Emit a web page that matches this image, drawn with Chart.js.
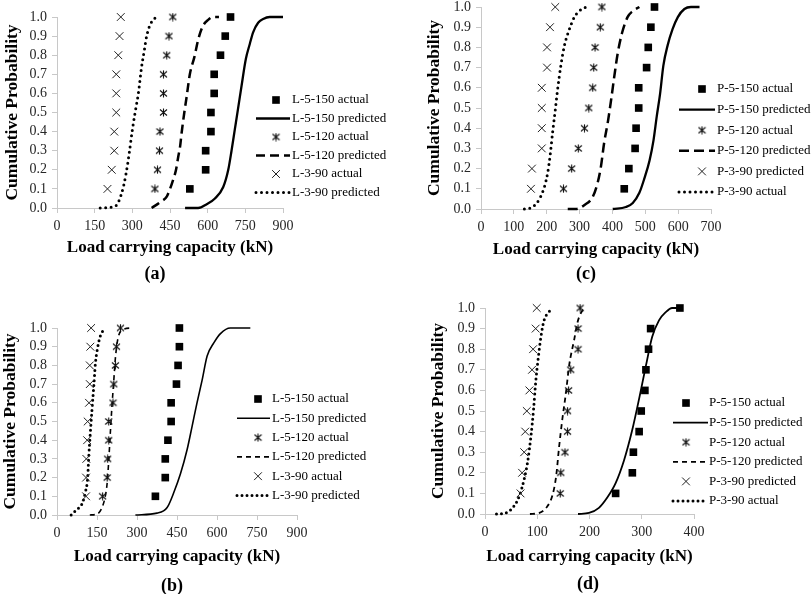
<!DOCTYPE html>
<html>
<head>
<meta charset="utf-8">
<script src="https://cdn.jsdelivr.net/npm/chart.js@4.4.1/dist/chart.umd.min.js"></script>
<style>
  body { margin: 0; background: #fff; }
  #wrap { position: relative; width: 812px; height: 594px; overflow: hidden; }
  #wrap canvas { position: absolute; }
  .tag { position: absolute; font: bold 18px "Liberation Serif", "Times New Roman", serif; color: #000; transform: translate(-50%, -50%); }
</style>
</head>
<body>
<div id="wrap">
  <canvas id="chartA" width="406" height="300" style="left:0;top:0"></canvas>
  <canvas id="chartC" width="406" height="300" style="left:406px;top:0"></canvas>
  <canvas id="chartB" width="406" height="294" style="left:0;top:300px"></canvas>
  <canvas id="chartD" width="406" height="294" style="left:406px;top:300px"></canvas>
  <div class="tag" style="left:155px;top:273px">(a)</div>
  <div class="tag" style="left:586px;top:273px">(c)</div>
  <div class="tag" style="left:172px;top:585px">(b)</div>
  <div class="tag" style="left:588px;top:583px">(d)</div>
</div>
<script>
// cumulative probability levels of the test results
const probLevels = [0.1, 0.2, 0.3, 0.4, 0.5, 0.6, 0.7, 0.8, 0.9, 1.0];
const yTicks = [0, 0.1, 0.2, 0.3, 0.4, 0.5, 0.6, 0.7, 0.8, 0.9, 1.0];

// (a)
const xTicksA = [0, 150, 300, 450, 600, 750, 900];
const aL150Actual = [529, 592, 592, 613, 613, 626, 626, 651, 670, 691];
const aL120Actual = [390, 400, 408, 410, 424, 424, 424, 437, 446, 461];
const aL90Actual = [201, 218, 228, 228, 236, 236, 236, 244, 249, 254];
const aL150PredX = [510, 562, 596, 629, 662, 682, 695, 708, 721, 735, 752, 768, 781, 801, 821, 847, 900];
const aL150PredP = [0, 0, 0.02, 0.05, 0.11, 0.2, 0.3, 0.41, 0.52, 0.64, 0.78, 0.86, 0.92, 0.97, 0.99, 1, 1];
const aL120PredX = [377, 410, 437, 450, 463, 474, 483, 490, 496, 507, 516, 529, 547, 562, 580, 602, 622, 645];
const aL120PredP = [0, 0.03, 0.06, 0.1, 0.15, 0.2, 0.27, 0.32, 0.39, 0.5, 0.58, 0.7, 0.79, 0.88, 0.95, 0.985, 1, 1];
const aL90PredX = [172, 232, 258, 275, 289, 298, 311, 324, 337, 347, 357, 371, 384, 394];
const aL90PredP = [0, 0.01, 0.08, 0.18, 0.3, 0.39, 0.5, 0.6, 0.74, 0.82, 0.9, 0.96, 0.985, 1];

// (c)
const xTicksC = [0, 100, 200, 300, 400, 500, 600, 700];
const cP150Actual = [436, 450, 469, 472, 480, 480, 504, 509, 517, 528];
const cP120Actual = [251, 276, 296, 315, 328, 340, 343, 347, 363, 368];
const cP90Marks = [152, 155, 185, 185, 185, 185, 201, 201, 210, 226];
const cP150PredX = [401, 441, 462, 482, 497, 513, 525, 535, 545, 555, 568, 583, 599, 619, 639, 665];
const cP150PredP = [0, 0.01, 0.03, 0.08, 0.15, 0.24, 0.34, 0.46, 0.57, 0.71, 0.81, 0.89, 0.95, 0.99, 1, 1];
const cP120PredX = [264, 289, 315, 340, 355, 365, 375, 386, 396, 406, 416, 429, 446, 462, 482];
const cP120PredP = [0, 0, 0.02, 0.06, 0.13, 0.21, 0.33, 0.43, 0.54, 0.66, 0.77, 0.87, 0.95, 0.98, 1];
const cP90CurveX = [132, 157, 178, 193, 203, 210, 218, 226, 233, 243, 254, 269, 284, 299, 320];
const cP90CurveP = [0, 0.01, 0.05, 0.11, 0.18, 0.26, 0.38, 0.49, 0.59, 0.71, 0.81, 0.89, 0.95, 0.98, 1];

// (b)
const xTicksB = [0, 150, 300, 450, 600, 750, 900];
const bL150Actual = [369, 406, 406, 416, 428, 428, 448, 454, 459, 459];
const bL120Actual = [171, 188, 190, 194, 194, 210, 213, 219, 223, 238];
const bL90Actual = [109, 109, 110, 113, 115, 120, 123, 123, 125, 128];
const bL150PredX = [294, 375, 413, 438, 463, 488, 506, 525, 544, 563, 588, 613, 650, 725];
const bL150PredP = [0, 0.01, 0.04, 0.12, 0.22, 0.35, 0.47, 0.6, 0.72, 0.85, 0.92, 0.97, 1, 1];
const bL120PredX = [123, 150, 169, 181, 188, 194, 200, 206, 213, 219, 228, 244, 281];
const bL120PredP = [0, 0.005, 0.04, 0.1, 0.17, 0.29, 0.44, 0.58, 0.72, 0.84, 0.94, 0.99, 1];
const bL90PredX = [53, 75, 94, 106, 115, 119, 125, 131, 138, 144, 153, 163, 181];
const bL90PredP = [0, 0.03, 0.06, 0.12, 0.2, 0.31, 0.44, 0.56, 0.69, 0.81, 0.9, 0.96, 1];

// (d)
const xTicksD = [0, 100, 200, 300, 400];
const dP150Actual = [250, 282, 284, 295, 299, 306, 308, 313, 317, 373];
const dP120Actual = [144, 145, 153, 158, 158, 160, 164, 178, 178, 182];
const dP90Marks = [68, 71, 75, 77, 80, 85, 90, 92, 97, 99];
const dP150PredX = [178, 199, 218, 234, 250, 266, 282, 295, 308, 320, 333, 346, 358, 371];
const dP150PredP = [0, 0.005, 0.03, 0.08, 0.15, 0.26, 0.41, 0.56, 0.72, 0.86, 0.94, 0.98, 1, 1];
const dP120PredX = [86, 104, 120, 129, 136, 142, 148, 155, 161, 171, 177, 187, 193];
const dP120PredP = [0, 0.005, 0.04, 0.09, 0.18, 0.33, 0.46, 0.59, 0.72, 0.85, 0.93, 0.99, 1];
const dP90CurveX = [22, 40, 56, 66, 75, 82, 88, 93, 97, 102, 107, 113, 122, 129];
const dP90CurveP = [0, 0.005, 0.04, 0.09, 0.17, 0.26, 0.38, 0.51, 0.64, 0.76, 0.86, 0.94, 0.98, 1];

const SERIF = '"Liberation Serif", "Times New Roman", serif';

// excel style star marker: an x with a vertical bar through it
function makeStar(size, color) {
    const c = document.createElement('canvas');
    c.width = size; c.height = size;
    const g = c.getContext('2d');
    g.strokeStyle = color;
    g.lineWidth = 1.1;
    const h = size / 2;
    g.beginPath();
    g.moveTo(1, 1.5); g.lineTo(size - 1, size - 1.5);
    g.moveTo(size - 1, 1.5); g.lineTo(1, size - 1.5);
    g.moveTo(h, 0.5); g.lineTo(h, size - 0.5);
    g.stroke();
    return c;
}
const starMark = makeStar(9, '#111');

function pts(xs, ps) {
    return xs.map((x, i) => ({ x: x, y: ps[i] }));
}

function markSet(label, xs, style) {
    const ds = {
        label: label,
        data: pts(xs, probLevels),
        showLine: false,
        clip: false,
        pointStyle: style,
        backgroundColor: '#000',
        borderColor: '#222',
        borderWidth: 1,
        pointRadius: 5.5
    };
    if (style === 'rect') { ds.borderWidth = 0; ds.pointRadius = 5.4; }
    if (style === 'star') { ds.pointStyle = starMark; ds.pointRadius = 5; }
    return ds;
}

function lineSet(label, xs, ps, width, dash) {
    return {
        label: label,
        data: pts(xs, ps),
        showLine: true,
        clip: false,
        pointRadius: 0,
        borderColor: '#000',
        backgroundColor: '#000',
        borderWidth: width,
        borderDash: dash,
        borderCapStyle: dash.length && dash[0] === 0 ? 'round' : 'butt',
        cubicInterpolationMode: 'monotone'
    };
}

// legend drawn at a fixed spot, overlapping the plot like the original
const sideLegend = {
    id: 'sideLegend',
    afterDraw(chart, args, opts) {
        const ctx = chart.ctx;
        ctx.save();
        ctx.font = opts.fontSize + 'px ' + SERIF;
        ctx.textBaseline = 'middle';
        ctx.textAlign = 'left';
        chart.data.datasets.forEach((ds, i) => {
            const y = opts.top + i * opts.step;
            if (ds.showLine) {
                ctx.strokeStyle = ds.borderColor;
                ctx.lineWidth = ds.borderWidth;
                ctx.lineCap = ds.borderCapStyle;
                ctx.setLineDash(ds.borderDash);
                ctx.beginPath();
                ctx.moveTo(opts.lineX0, y);
                ctx.lineTo(opts.lineX1, y);
                ctx.stroke();
                ctx.setLineDash([]);
                ctx.lineCap = 'butt';
            } else {
                ctx.fillStyle = ds.backgroundColor;
                ctx.strokeStyle = ds.borderColor;
                ctx.lineWidth = ds.borderWidth;
                Chart.helpers.drawPoint(ctx, {
                    pointStyle: ds.pointStyle, radius: ds.pointRadius,
                    borderWidth: ds.borderWidth, rotation: 0
                }, opts.markX, y);
            }
            ctx.fillStyle = '#000';
            ctx.fillText(ds.label, opts.textX, y);
        });
        ctx.restore();
    }
};

function makePanel(id, p) {
    const cv = document.getElementById(id);
    const W = cv.width, H = cv.height;
    new Chart(cv, {
        type: 'scatter',
        data: { datasets: p.datasets },
        options: {
            responsive: false,
            animation: false,
            events: [],
            layout: { padding: { left: 0, top: p.top, right: W - p.right, bottom: 0 } },
            plugins: {
                legend: { display: false },
                tooltip: { enabled: false },
                sideLegend: p.legend
            },
            scales: {
                x: {
                    type: 'linear',
                    min: p.xTicks[0],
                    max: p.xTicks[p.xTicks.length - 1],
                    afterBuildTicks: s => { s.ticks = p.xTicks.map(v => ({ value: v })); },
                    afterFit: s => { s.height = H - p.bottom; },
                    ticks: {
                        font: { family: SERIF, size: 14 },
                        color: '#262626',
                        padding: 4.5,
                        maxRotation: 0,
                        callback: v => String(v)
                    },
                    grid: { drawOnChartArea: false, drawTicks: true, tickLength: 5, color: '#c8c8c8' },
                    border: { color: '#c8c8c8', width: 1 },
                    title: {
                        display: true,
                        text: 'Load carrying capacity (kN)',
                        color: '#000',
                        font: { family: SERIF, size: 17, weight: 'bold', lineHeight: 1.2 },
                        padding: { top: 0, bottom: p.xTitlePad }
                    }
                },
                y: {
                    type: 'linear',
                    min: 0,
                    max: 1,
                    afterBuildTicks: s => { s.ticks = yTicks.map(v => ({ value: v })); },
                    afterFit: s => { s.width = p.left; s.paddingTop = 0; s.paddingBottom = 0; },
                    ticks: {
                        font: { family: SERIF, size: 14, lineHeight: 1 },
                        color: '#262626',
                        padding: 5,
                        callback: v => Number(v).toFixed(1)
                    },
                    grid: { drawOnChartArea: false, drawTicks: true, tickLength: 5, color: '#c8c8c8' },
                    border: { color: '#c8c8c8', width: 1 },
                    title: {
                        display: true,
                        text: 'Cumulative Probability',
                        color: '#000',
                        font: { family: SERIF, size: 17.5, weight: 'bold', lineHeight: 1.2 },
                        padding: { top: p.yTitlePad, bottom: 0 }
                    }
                }
            }
        },
        plugins: [sideLegend]
    });
}

makePanel('chartA', {
    left: 57, right: 283, top: 17, bottom: 208,
    xTicks: xTicksA, xTitlePad: 41.8, yTitlePad: 1.5,
    legend: { top: 100, step: 18.5, lineX0: 256, lineX1: 290, markX: 276, textX: 292, fontSize: 13 },
    datasets: [
        markSet('L-5-150 actual', aL150Actual, 'rect'),
        lineSet('L-5-150 predicted', aL150PredX, aL150PredP, 2.3, []),
        markSet('L-5-120 actual', aL120Actual, 'star'),
        lineSet('L-5-120 predicted', aL120PredX, aL120PredP, 2.5, [9, 5]),
        markSet('L-3-90 actual', aL90Actual, 'crossRot'),
        lineSet('L-3-90 predicted', aL90PredX, aL90PredP, 3, [0, 5.5])
    ]
});

makePanel('chartC', {
    left: 75, right: 305, top: 7, bottom: 209,
    xTicks: xTicksC, xTitlePad: 39.8, yTitlePad: 17.5,
    legend: { top: 89, step: 20.6, lineX0: 273, lineX1: 309, markX: 296, textX: 311, fontSize: 13 },
    datasets: [
        markSet('P-5-150 actual', cP150Actual, 'rect'),
        lineSet('P-5-150 predicted', cP150PredX, cP150PredP, 2.3, []),
        markSet('P-5-120 actual', cP120Actual, 'star'),
        lineSet('P-5-120 predicted', cP120PredX, cP120PredP, 2.5, [10, 5]),
        markSet('P-3-90 predicted', cP90Marks, 'crossRot'),
        lineSet('P-3-90 actual', cP90CurveX, cP90CurveP, 3, [0, 5.5])
    ]
});

makePanel('chartB', {
    left: 57, right: 297, top: 28, bottom: 215,
    xTicks: xTicksB, xTitlePad: 27.1, yTitlePad: 0,
    legend: { top: 99, step: 19.3, lineX0: 237, lineX1: 270, markX: 258, textX: 272, fontSize: 13 },
    datasets: [
        markSet('L-5-150 actual', bL150Actual, 'rect'),
        lineSet('L-5-150 predicted', bL150PredX, bL150PredP, 1.6, []),
        markSet('L-5-120 actual', bL120Actual, 'star'),
        lineSet('L-5-120 predicted', bL120PredX, bL120PredP, 1.6, [5, 4]),
        markSet('L-3-90 actual', bL90Actual, 'crossRot'),
        lineSet('L-3-90 predicted', bL90PredX, bL90PredP, 3, [0, 5])
    ]
});

makePanel('chartD', {
    left: 79, right: 288, top: 8, bottom: 214,
    xTicks: xTicksD, xTitlePad: 27.1, yTitlePad: 21.5,
    legend: { top: 103, step: 19.6, lineX0: 267, lineX1: 302, markX: 280, textX: 303, fontSize: 13 },
    datasets: [
        markSet('P-5-150 actual', dP150Actual, 'rect'),
        lineSet('P-5-150 predicted', dP150PredX, dP150PredP, 1.8, []),
        markSet('P-5-120 actual', dP120Actual, 'star'),
        lineSet('P-5-120 predicted', dP120PredX, dP120PredP, 1.8, [5, 4]),
        markSet('P-3-90 predicted', dP90Marks, 'crossRot'),
        lineSet('P-3-90 actual', dP90CurveX, dP90CurveP, 3, [0, 5])
    ]
});
</script>
</body>
</html>
